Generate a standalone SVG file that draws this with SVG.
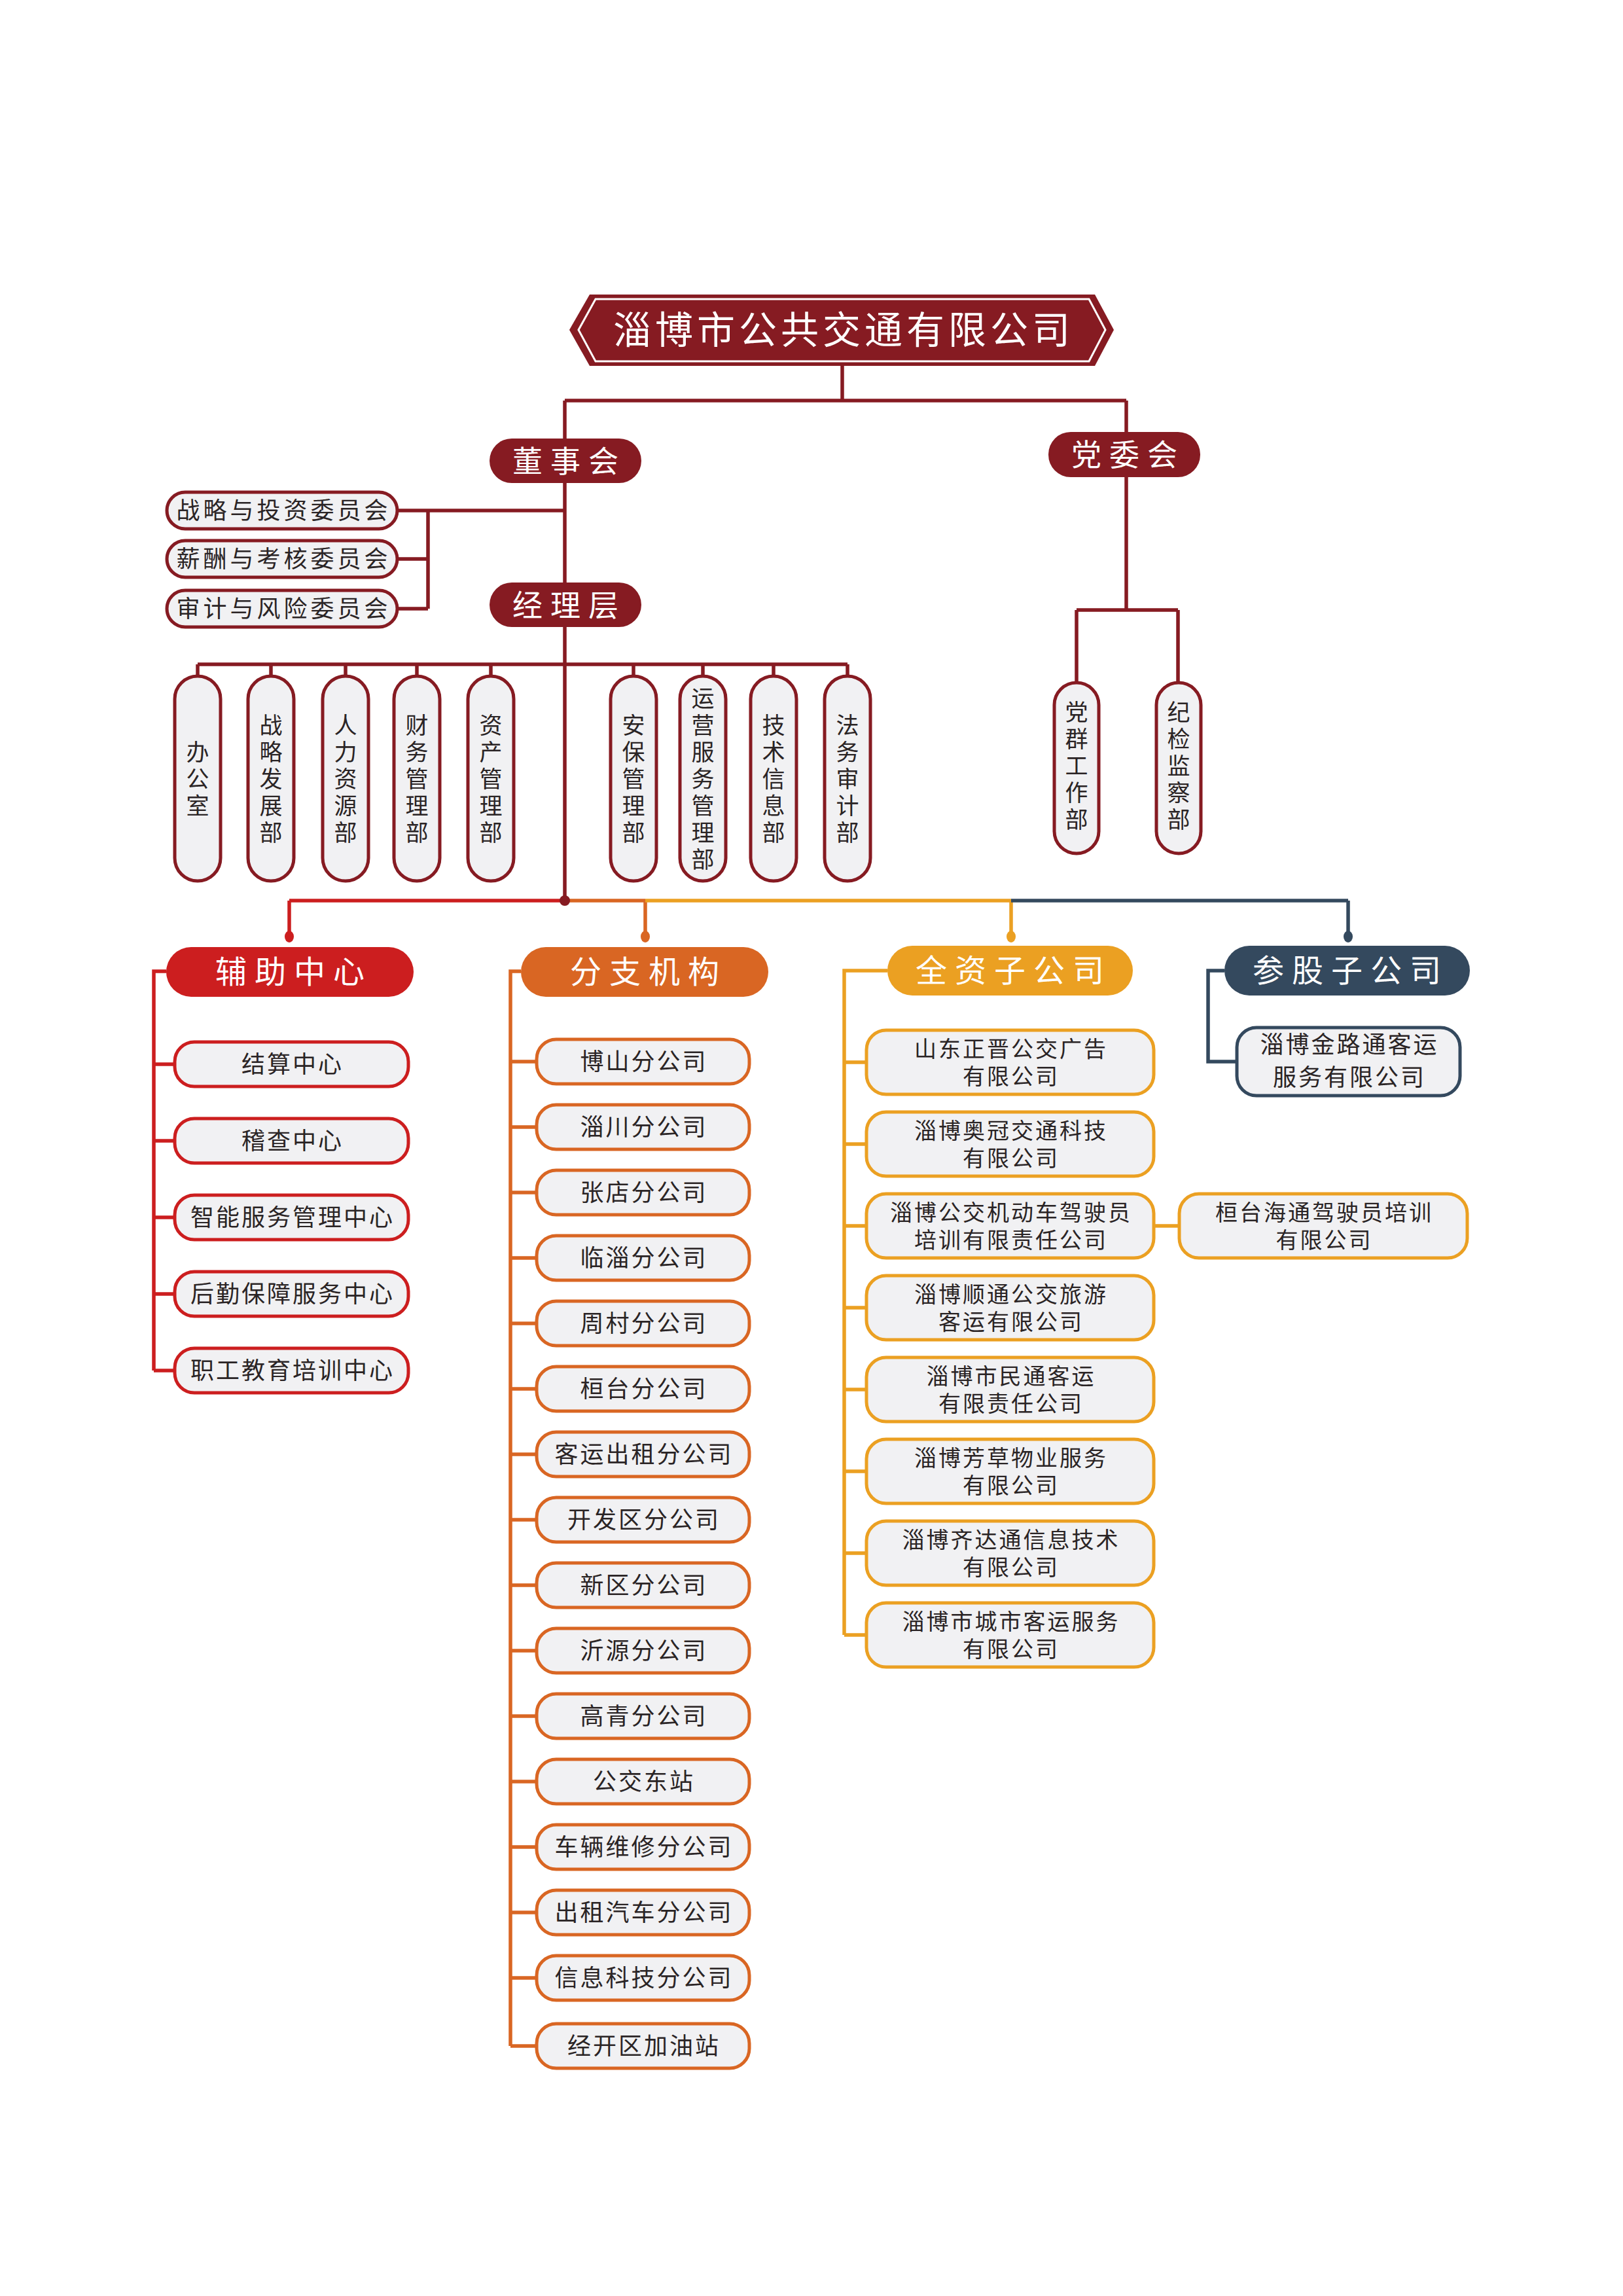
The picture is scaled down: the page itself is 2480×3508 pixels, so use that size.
<svg xmlns="http://www.w3.org/2000/svg" width="2480" height="3508" viewBox="0 0 2480 3508">
<style>
.ln{fill:none;stroke-width:5.5}
.dr{stroke:#861B22}.rd{stroke:#CC1E1F}.or{stroke:#D96623}.yl{stroke:#EBA022}.nv{stroke:#34495E}
.box{fill:#F1F1F3;stroke-width:5}
.t{font-family:"Noto Sans CJK SC","Noto Sans CJK TC",sans-serif;fill:#2A2425;text-anchor:middle}
.w{fill:#FFFFFF}
.s36{font-size:36px;letter-spacing:3px}
.s35{font-size:34px;letter-spacing:3px}
.v{font-size:35px;letter-spacing:6px;writing-mode:vertical-rl}
.hd{font-size:48px;letter-spacing:12px}
.md{font-size:46px;letter-spacing:12px}
</style>
<rect width="2480" height="3508" fill="#FFFFFF"/>
<g id="connectors">
  <path class="ln dr" d="M1287 559V612M863 612H1721M863 612V1376M1721 612V932M1645 932H1800M1645 932V1043M1800 932V1043"/>
  <path class="ln dr" d="M863 780H607M654 780V930M654 854H607M654 930H607"/>
  <path class="ln dr" d="M302 1015H1295M302 1015V1033M414 1015V1033M528 1015V1033M637 1015V1033M750 1015V1033M968 1015V1033M1074 1015V1033M1182 1015V1033M1295 1015V1033"/>
  <path class="ln rd" d="M442 1376H863M442 1376V1431"/>
  <path class="ln or" d="M863 1376H986M986 1376V1431"/>
  <path class="ln yl" d="M986 1376H1545M1545 1376V1431"/>
  <path class="ln nv" d="M1545 1376H2060M2060 1376V1431"/>
  <circle cx="863" cy="1376" r="8" fill="#861B22"/>
  <ellipse cx="442" cy="1431" rx="7" ry="9" fill="#CC1E1F"/>
  <ellipse cx="986" cy="1431" rx="7" ry="9" fill="#D96623"/>
  <ellipse cx="1545" cy="1431" rx="7" ry="9" fill="#EBA022"/>
  <ellipse cx="2060" cy="1431" rx="7" ry="9" fill="#34495E"/>
  <path class="ln rd" d="M254 1484H235V2094M235 1626H267M235 1743H267M235 1860H267M235 1977H267M235 2094H267"/>
  <path class="ln or" d="M796 1484H780V3126M780 1622H820M780 1722H820M780 1822H820M780 1922H820M780 2022H820M780 2122H820M780 2222H820M780 2322H820M780 2422H820M780 2522H820M780 2622H820M780 2722H820M780 2822H820M780 2922H820M780 3022H820M780 3126H820"/>
  <path class="ln yl" d="M1356 1483H1290V2498M1290 1623H1324M1290 1748H1324M1290 1873H1324M1290 1998H1324M1290 2123H1324M1290 2248H1324M1290 2373H1324M1290 2498H1324M1763 1873H1802"/>
  <path class="ln nv" d="M1871 1483H1846V1622H1890"/>
</g>
<g id="title">
  <polygon points="870,504 901,450 1673,450 1702,504 1673,559 901,559" fill="#861B22"/>
  <polygon points="884,504 910,457 1664,457 1689,504 1664,552 910,552" fill="none" stroke="#FFFFFF" stroke-width="3"/>
  <text class="t w" x="1289" y="525" style="font-size:58px;letter-spacing:6px">淄博市公共交通有限公司</text>
</g>
<g id="dongshihui">
  <rect x="748" y="670" width="232" height="68" rx="34" fill="#861B22"/>
  <text class="t w md" x="870" y="721">董事会</text>
</g>
<g id="dangweihui">
  <rect x="1602" y="660" width="232" height="69" rx="34" fill="#861B22"/>
  <text class="t w md" x="1724" y="711">党委会</text>
</g>
<g id="jinglieceng">
  <rect x="748" y="890" width="232" height="68" rx="34" fill="#861B22"/>
  <text class="t w md" x="870" y="941">经理层</text>
</g>
<g id="com1"><rect class="box dr" x="255" y="752" width="352" height="56" rx="28"/><text class="t" x="433.5" y="793" style="font-size:36px;letter-spacing:5px">战略与投资委员会</text></g>
<g id="com2"><rect class="box dr" x="255" y="826" width="352" height="56" rx="28"/><text class="t" x="433.5" y="867" style="font-size:36px;letter-spacing:5px">薪酬与考核委员会</text></g>
<g id="com3"><rect class="box dr" x="255" y="902" width="352" height="56" rx="28"/><text class="t" x="433.5" y="943" style="font-size:36px;letter-spacing:5px">审计与风险委员会</text></g>
<g id="d1"><rect class="box dr" x="267" y="1033" width="70" height="313" rx="35"/><text class="t v" x="302" y="1193">办公室</text></g>
<g id="d2"><rect class="box dr" x="379" y="1033" width="70" height="313" rx="35"/><text class="t v" x="414" y="1193">战略发展部</text></g>
<g id="d3"><rect class="box dr" x="493" y="1033" width="70" height="313" rx="35"/><text class="t v" x="528" y="1193">人力资源部</text></g>
<g id="d4"><rect class="box dr" x="602" y="1033" width="70" height="313" rx="35"/><text class="t v" x="637" y="1193">财务管理部</text></g>
<g id="d5"><rect class="box dr" x="715" y="1033" width="70" height="313" rx="35"/><text class="t v" x="750" y="1193">资产管理部</text></g>
<g id="d6"><rect class="box dr" x="933" y="1033" width="70" height="313" rx="35"/><text class="t v" x="968" y="1193">安保管理部</text></g>
<g id="d7"><rect class="box dr" x="1039" y="1033" width="70" height="313" rx="35"/><text class="t v" x="1074" y="1193">运营服务管理部</text></g>
<g id="d8"><rect class="box dr" x="1147" y="1033" width="70" height="313" rx="35"/><text class="t v" x="1182" y="1193">技术信息部</text></g>
<g id="d9"><rect class="box dr" x="1260" y="1033" width="70" height="313" rx="35"/><text class="t v" x="1295" y="1193">法务审计部</text></g>
<g id="p1"><rect class="box dr" x="1611" y="1043" width="68" height="261" rx="34"/><text class="t v" x="1645" y="1173">党群工作部</text></g>
<g id="p2"><rect class="box dr" x="1767" y="1043" width="68" height="261" rx="34"/><text class="t v" x="1801" y="1173">纪检监察部</text></g>
<g id="h1"><rect x="254" y="1447" width="378" height="76" rx="38" fill="#CC1E1F"/><text class="t w hd" x="449" y="1502">辅助中心</text></g>
<g id="h2"><rect x="796" y="1447" width="378" height="76" rx="38" fill="#D96623"/><text class="t w hd" x="991" y="1502">分支机构</text></g>
<g id="h3"><rect x="1356" y="1445" width="375" height="76" rx="38" fill="#EBA022"/><text class="t w hd" x="1549" y="1500">全资子公司</text></g>
<g id="h4"><rect x="1871" y="1445" width="375" height="76" rx="38" fill="#34495E"/><text class="t w hd" x="2064" y="1500">参股子公司</text></g>
<g id="a1"><rect class="box rd" x="267" y="1592" width="357" height="68" rx="30"/><text class="t s36" x="447" y="1639">结算中心</text></g>
<g id="a2"><rect class="box rd" x="267" y="1709" width="357" height="68" rx="30"/><text class="t s36" x="447" y="1756">稽查中心</text></g>
<g id="a3"><rect class="box rd" x="267" y="1826" width="357" height="68" rx="30"/><text class="t s36" x="447" y="1873">智能服务管理中心</text></g>
<g id="a4"><rect class="box rd" x="267" y="1943" width="357" height="68" rx="30"/><text class="t s36" x="447" y="1990">后勤保障服务中心</text></g>
<g id="a5"><rect class="box rd" x="267" y="2060" width="357" height="68" rx="30"/><text class="t s36" x="447" y="2107">职工教育培训中心</text></g>
<g id="b1"><rect class="box or" x="820" y="1588" width="325" height="68" rx="30"/><text class="t s36" x="984" y="1635">博山分公司</text></g>
<g id="b2"><rect class="box or" x="820" y="1688" width="325" height="68" rx="30"/><text class="t s36" x="984" y="1735">淄川分公司</text></g>
<g id="b3"><rect class="box or" x="820" y="1788" width="325" height="68" rx="30"/><text class="t s36" x="984" y="1835">张店分公司</text></g>
<g id="b4"><rect class="box or" x="820" y="1888" width="325" height="68" rx="30"/><text class="t s36" x="984" y="1935">临淄分公司</text></g>
<g id="b5"><rect class="box or" x="820" y="1988" width="325" height="68" rx="30"/><text class="t s36" x="984" y="2035">周村分公司</text></g>
<g id="b6"><rect class="box or" x="820" y="2088" width="325" height="68" rx="30"/><text class="t s36" x="984" y="2135">桓台分公司</text></g>
<g id="b7"><rect class="box or" x="820" y="2188" width="325" height="68" rx="30"/><text class="t s36" x="984" y="2235">客运出租分公司</text></g>
<g id="b8"><rect class="box or" x="820" y="2288" width="325" height="68" rx="30"/><text class="t s36" x="984" y="2335">开发区分公司</text></g>
<g id="b9"><rect class="box or" x="820" y="2388" width="325" height="68" rx="30"/><text class="t s36" x="984" y="2435">新区分公司</text></g>
<g id="b10"><rect class="box or" x="820" y="2488" width="325" height="68" rx="30"/><text class="t s36" x="984" y="2535">沂源分公司</text></g>
<g id="b11"><rect class="box or" x="820" y="2588" width="325" height="68" rx="30"/><text class="t s36" x="984" y="2635">高青分公司</text></g>
<g id="b12"><rect class="box or" x="820" y="2688" width="325" height="68" rx="30"/><text class="t s36" x="984" y="2735">公交东站</text></g>
<g id="b13"><rect class="box or" x="820" y="2788" width="325" height="68" rx="30"/><text class="t s36" x="984" y="2835">车辆维修分公司</text></g>
<g id="b14"><rect class="box or" x="820" y="2888" width="325" height="68" rx="30"/><text class="t s36" x="984" y="2935">出租汽车分公司</text></g>
<g id="b15"><rect class="box or" x="820" y="2988" width="325" height="68" rx="30"/><text class="t s36" x="984" y="3035">信息科技分公司</text></g>
<g id="b16"><rect class="box or" x="820" y="3092" width="325" height="68" rx="30"/><text class="t s36" x="984" y="3139">经开区加油站</text></g>
<g id="c1"><rect class="box yl" x="1324" y="1574" width="439" height="98" rx="30"/><text class="t s35"><tspan x="1545" y="1615">山东正晋公交广告</tspan><tspan x="1545" y="1657">有限公司</tspan></text></g>
<g id="c2"><rect class="box yl" x="1324" y="1699" width="439" height="98" rx="30"/><text class="t s35"><tspan x="1545" y="1740">淄博奥冠交通科技</tspan><tspan x="1545" y="1782">有限公司</tspan></text></g>
<g id="c3"><rect class="box yl" x="1324" y="1824" width="439" height="98" rx="30"/><text class="t s35"><tspan x="1545" y="1865">淄博公交机动车驾驶员</tspan><tspan x="1545" y="1907">培训有限责任公司</tspan></text></g>
<g id="c4"><rect class="box yl" x="1324" y="1949" width="439" height="98" rx="30"/><text class="t s35"><tspan x="1545" y="1990">淄博顺通公交旅游</tspan><tspan x="1545" y="2032">客运有限公司</tspan></text></g>
<g id="c5"><rect class="box yl" x="1324" y="2074" width="439" height="98" rx="30"/><text class="t s35"><tspan x="1545" y="2115">淄博市民通客运</tspan><tspan x="1545" y="2157">有限责任公司</tspan></text></g>
<g id="c6"><rect class="box yl" x="1324" y="2199" width="439" height="98" rx="30"/><text class="t s35"><tspan x="1545" y="2240">淄博芳草物业服务</tspan><tspan x="1545" y="2282">有限公司</tspan></text></g>
<g id="c7"><rect class="box yl" x="1324" y="2324" width="439" height="98" rx="30"/><text class="t s35"><tspan x="1545" y="2365">淄博齐达通信息技术</tspan><tspan x="1545" y="2407">有限公司</tspan></text></g>
<g id="c8"><rect class="box yl" x="1324" y="2449" width="439" height="98" rx="30"/><text class="t s35"><tspan x="1545" y="2490">淄博市城市客运服务</tspan><tspan x="1545" y="2532">有限公司</tspan></text></g>
<g id="c9"><rect class="box yl" x="1802" y="1824" width="440" height="98" rx="30"/><text class="t s35"><tspan x="2023.5" y="1865">桓台海通驾驶员培训</tspan><tspan x="2023.5" y="1907">有限公司</tspan></text></g>
<g id="e1"><rect class="box nv" x="1890" y="1570" width="341" height="104" rx="30"/><text class="t s36"><tspan x="2062" y="1609">淄博金路通客运</tspan><tspan x="2062" y="1659">服务有限公司</tspan></text></g>
</svg>
